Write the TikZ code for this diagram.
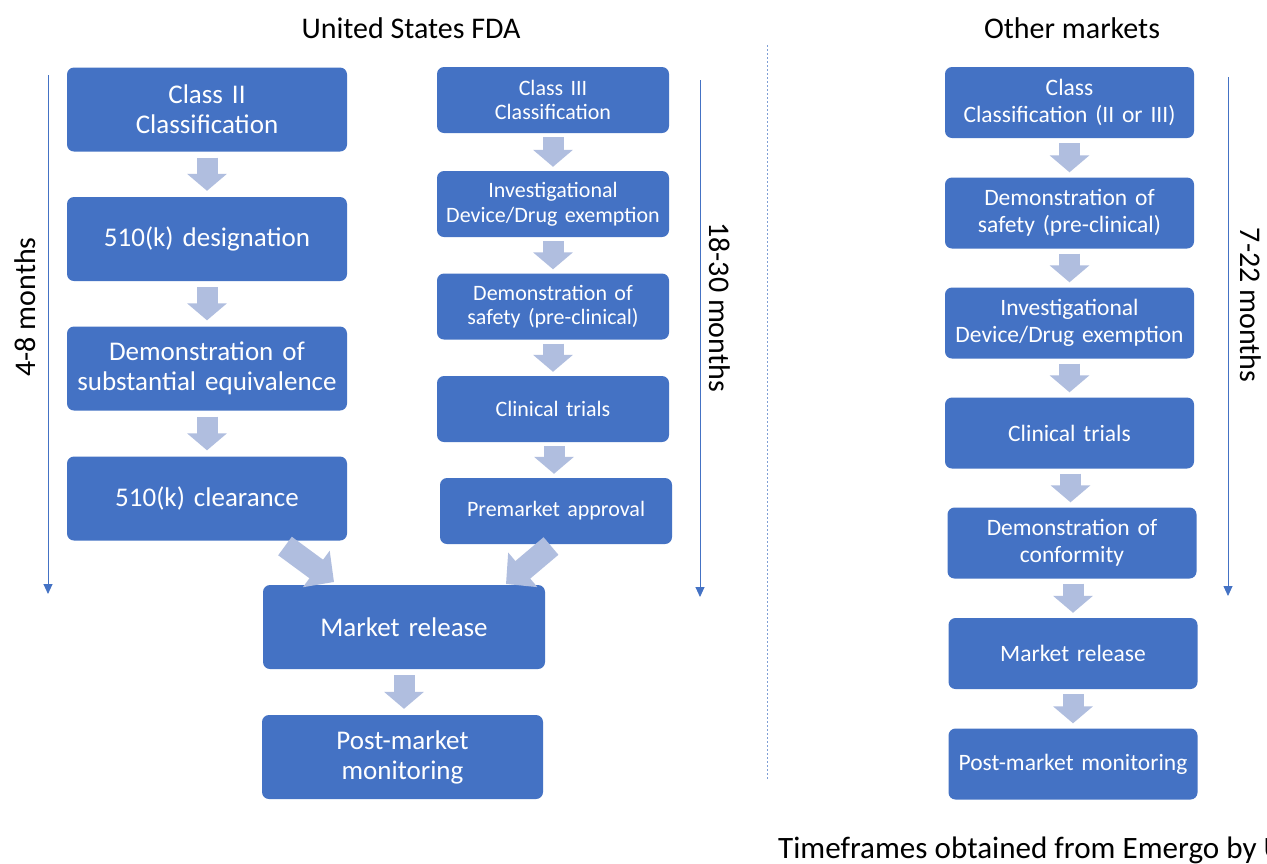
\documentclass[tikz,border=0pt]{standalone}
\usepackage{fontspec}
\setmainfont{Carlito}
\usetikzlibrary{arrows.meta}
\definecolor{boxblue}{HTML}{4472C4}
\definecolor{arrowblue}{HTML}{B0BEDF}
\definecolor{divider}{HTML}{7F9FD6}
\begin{document}
\begin{tikzpicture}[x=1pt,y=-1pt,
  stepbox/.style={fill=boxblue, rounded corners=7pt, text=white, align=center, inner sep=2pt, anchor=center},
  big/.style={font=\fontsize{27}{30}\selectfont},
  mid/.style={font=\fontsize{22}{24.5}\selectfont},
  rgt/.style={font=\fontsize{23.5}{26.5}\selectfont},
  sz/.style 2 args={minimum width=#1pt, minimum height=#2pt, text width=#1pt-8pt},
  blockarrow/.style={draw=arrowblue, line width=21pt, -{Triangle[length=17pt,width=39pt]}, shorten <=6pt, shorten >=6pt},
  diagarrow/.style={draw=arrowblue, line width=23pt, -{Triangle[length=22pt,width=44pt]}},
  timeline/.style={draw=boxblue, line width=0.9pt, -{Triangle[length=10pt,width=9pt]}},
  headtext/.style={font=\fontsize{30}{36}\selectfont, text=black, inner sep=0pt}
]
\useasboundingbox (0,0) rectangle (1267,863);
\fill[white] (0,0) rectangle (1267,863);

% titles
\node[headtext] (tfda) at (411,28) {United States FDA};
\node[headtext] (tother) at (1072,28) {Other markets};
\node[headtext, font=\fontsize{31.1}{36}\selectfont, anchor=base west] (src) at (778,858) {Timeframes obtained from Emergo by U};

% divider
\coordinate (dv1) at (767,45);
\coordinate (dv2) at (767,780);
\draw[divider, line width=0.9pt, dash pattern=on 2pt off 2pt] (dv1) -- (dv2);

% left column (Class II)
\node[stepbox, big, sz={280}{84}] (a1) at (207,109.5) {Class II\\Classification};
\node[stepbox, big, sz={280}{84}] (a2) at (207,239) {510(k) designation};
\node[stepbox, big, sz={280}{84}] (a3) at (207,368.5) {Demonstration of\\substantial equivalence};
\node[stepbox, big, sz={280}{84}] (a4) at (207,498.5) {510(k) clearance};

% middle column (Class III)
\node[stepbox, mid, sz={232}{66}] (b1) at (553,100) {Class III\\Classification};
\node[stepbox, mid, sz={232}{66}] (b2) at (553,204) {Investigational\\Device/Drug exemption};
\node[stepbox, mid, sz={232}{66}] (b3) at (553,306.5) {Demonstration of\\safety (pre-clinical)};
\node[stepbox, mid, sz={232}{66}] (b4) at (553,409) {Clinical trials};
\node[stepbox, mid, sz={232}{66}] (b5) at (556,511) {Premarket approval};

% shared bottom
\node[stepbox, big, sz={282}{84}] (m1) at (404,627) {Market release};
\node[stepbox, big, sz={281}{84}] (m2) at (402.5,757) {Post-market\\monitoring};

% right column
\node[stepbox, rgt, sz={249}{71}] (c1) at (1069.5,102.5) {Class\\Classification (II or III)};
\node[stepbox, rgt, sz={249}{71}] (c2) at (1069.5,213) {Demonstration of\\safety (pre-clinical)};
\node[stepbox, rgt, sz={249}{71}] (c3) at (1069.5,323) {Investigational\\Device/Drug exemption};
\node[stepbox, rgt, sz={249}{71}] (c4) at (1069.5,433) {Clinical trials};
\node[stepbox, rgt, sz={249}{71}] (c5) at (1072,543) {Demonstration of\\conformity};
\node[stepbox, rgt, sz={249}{71}] (c6) at (1073,653.5) {Market release};
\node[stepbox, rgt, sz={249}{71}] (c7) at (1073,764) {Post-market monitoring};

% block arrows
\draw[blockarrow] (a1.south) -- (a2.north);
\draw[blockarrow] (a2.south) -- (a3.north);
\draw[blockarrow] (a3.south) -- (a4.north);
\draw[blockarrow, shorten <=4pt, shorten >=4pt] (b1.south) -- (b2.north);
\draw[blockarrow, shorten <=4pt, shorten >=4pt] (b2.south) -- (b3.north);
\draw[blockarrow, shorten <=4pt, shorten >=4pt] (b3.south) -- (b4.north);
\draw[blockarrow, shorten <=4pt, shorten >=4pt] ([xshift=1pt]b4.south) -- ([xshift=-2pt]b5.north);
\draw[blockarrow] (m1.south) -- ([xshift=1.5pt]m2.north);
\draw[blockarrow, shorten <=5pt, shorten >=5pt] (c1.south) -- (c2.north);
\draw[blockarrow, shorten <=5pt, shorten >=5pt] (c2.south) -- (c3.north);
\draw[blockarrow, shorten <=5pt, shorten >=5pt] (c3.south) -- (c4.north);
\draw[blockarrow, shorten <=5pt, shorten >=5pt] ([xshift=1pt]c4.south) -- ([xshift=-1.5pt]c5.north);
\draw[blockarrow, shorten <=5pt, shorten >=5pt] ([xshift=1pt]c5.south) -- (c6.north);
\draw[blockarrow, shorten <=5pt, shorten >=5pt] (c6.south) -- (c7.north);

% diagonal arrows into market release
\coordinate (d1s) at (285,546);
\coordinate (d1e) at (334,582);
\coordinate (d2s) at (551,546);
\coordinate (d2e) at (506,584);
\draw[diagarrow] (d1s) -- (d1e);
\draw[diagarrow] (d2s) -- (d2e);

% timelines
\coordinate (t1s) at (48,75);
\coordinate (t1e) at (48,594);
\coordinate (t2s) at (700,80);
\coordinate (t2e) at (700,597);
\coordinate (t3s) at (1228,77);
\coordinate (t3e) at (1228,596);
\draw[timeline] (t1s) -- (t1e);
\draw[timeline] (t2s) -- (t2e);
\draw[timeline] (t3s) -- (t3e);
\node[headtext, rotate=90] (l1) at (25,307) {4-8 months};
\node[headtext, rotate=-90] (l2) at (720,307) {18-30 months};
\node[headtext, rotate=-90] (l3) at (1251,305) {7-22 months};
\end{tikzpicture}
\end{document}
